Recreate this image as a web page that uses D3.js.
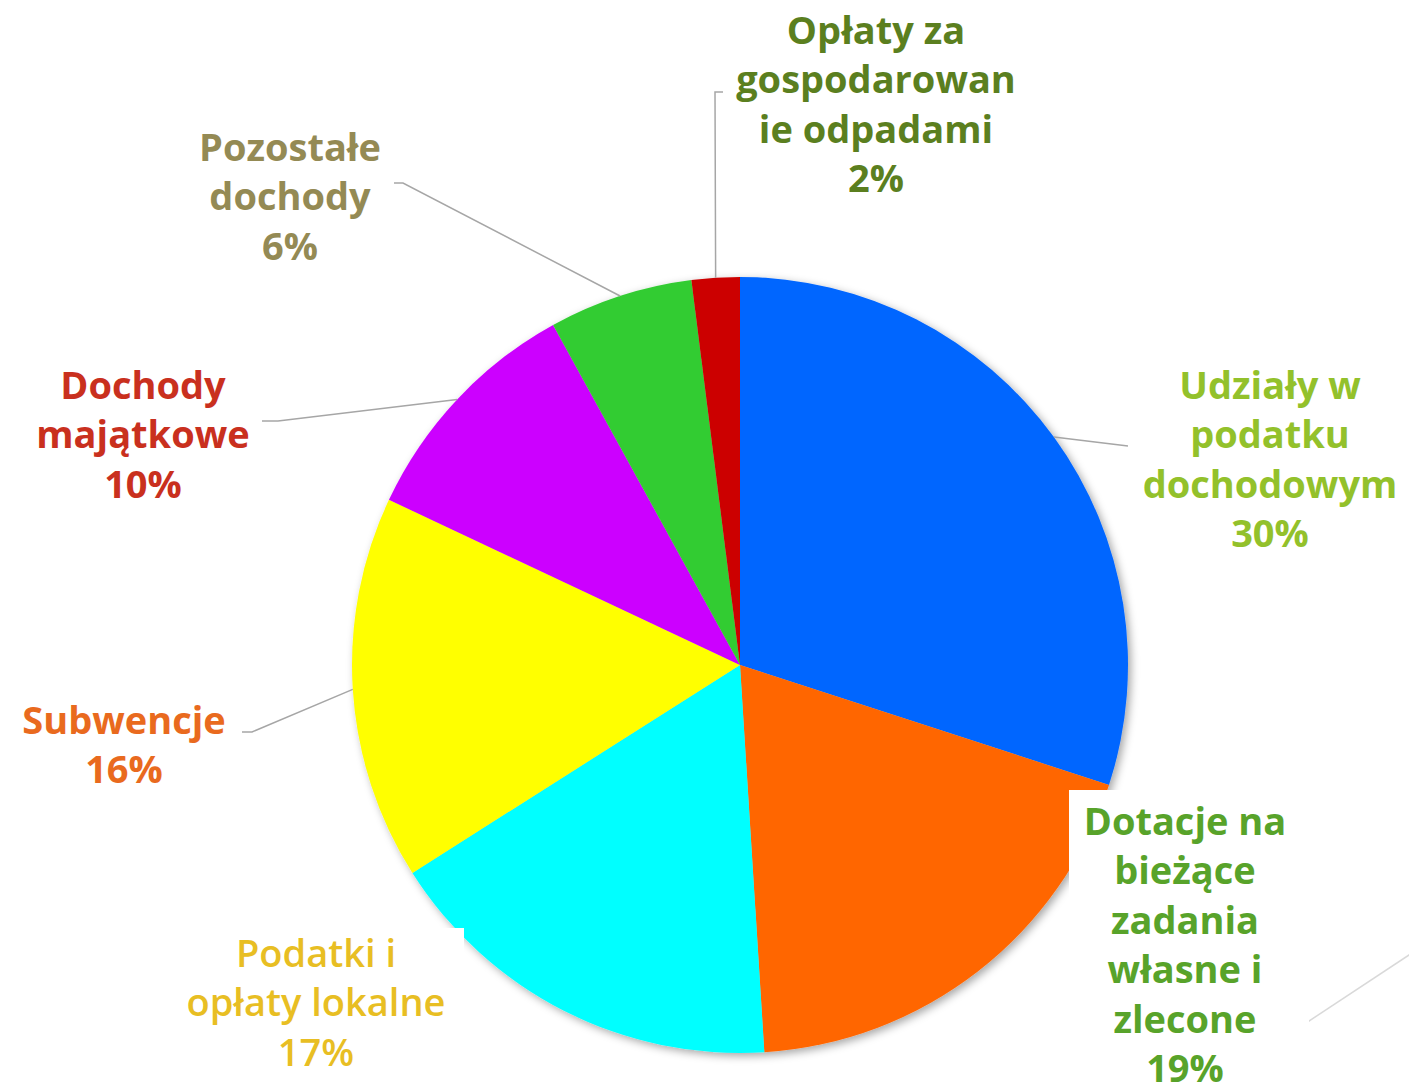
<!DOCTYPE html>
<html>
<head>
<meta charset="utf-8">
<script src="https://cdn.jsdelivr.net/npm/d3@7"></script>
<style>
  body { margin: 0; background: #fff; }
  svg text { font-family: "Open Sans", sans-serif; font-weight: 700; }
</style>
</head>
<body>
<div id="chart"></div>
<script>
// data
var categories = [
    "Udziały w podatku dochodowym",
    "Dotacje na bieżące zadania własne i zlecone",
    "Podatki i opłaty lokalne",
    "Subwencje",
    "Dochody majątkowe",
    "Pozostałe dochody",
    "Opłaty za gospodarowanie odpadami"
];
var values = [30, 19, 17, 16, 10, 6, 2];
var labelLines = [
    ["Udziały w", "podatku", "dochodowym"],
    ["Dotacje na", "bieżące", "zadania", "własne i", "zlecone"],
    ["Podatki i", "opłaty lokalne"],
    ["Subwencje"],
    ["Dochody", "majątkowe"],
    ["Pozostałe", "dochody"],
    ["Opłaty za", "gospodarowan", "ie odpadami"]
];

var sliceColors = ["#0066ff", "#ff6600", "#00ffff", "#ffff00", "#cc00ff", "#33cc33", "#cc0000"];
var labelColors = ["#93c12b", "#58a32a", "#e8be23", "#e96a1e", "#c9301e", "#948a54", "#5b7f1f"];

// label layout: centre x, first line centre y, leader elbow, white box behind label
var labelLayout = [
    { x: 1270, y: 385, elbow: [[1128, 446]] },
    { x: 1185, y: 821, box: [1069, 790, 240, 296], free: [[1300, 1027], [1412, 953]] },
    { x: 316, y: 953, box: [170, 928, 294, 158] },
    { x: 124, y: 720, elbow: [[252, 732], [242, 732]] },
    { x: 143, y: 385, elbow: [[278, 421], [262, 421]] },
    { x: 290, y: 147, elbow: [[403, 183], [394, 183]] },
    { x: 876, y: 30, elbow: [[715, 92], [723, 92]] }
];

var W = 1409, H = 1086;
var cx = 740, cy = 665, radius = 388;
var lineH = 49.5;

var svg = d3.select("#chart").append("svg")
    .attr("width", W).attr("height", H);

var defs = svg.append("defs");
var f = defs.append("filter").attr("id", "shadow")
    .attr("x", "-10%").attr("y", "-10%").attr("width", "120%").attr("height", "120%");
f.append("feDropShadow")
    .attr("dx", 3).attr("dy", 3).attr("stdDeviation", 4)
    .attr("flood-color", "#000").attr("flood-opacity", 0.35);

var pie = d3.pie().sort(null).value(d => d);
var arcs = pie(values);
var arc = d3.arc().innerRadius(0).outerRadius(radius);
var edge = d3.arc().innerRadius(radius).outerRadius(radius);

var g = svg.append("g").attr("transform", `translate(${cx}, ${cy})`);

g.append("g").attr("filter", "url(#shadow)")
    .selectAll("path")
    .data(arcs)
    .enter()
    .append("path")
    .attr("d", arc)
    .attr("fill", (d, i) => sliceColors[i]);

// leader lines
arcs.forEach(function (a, i) {
    var L = labelLayout[i];
    if (L.elbow) {
        var p = edge.centroid(a);
        var pts = [[p[0] + cx, p[1] + cy]].concat(L.elbow);
        svg.append("path")
            .attr("d", d3.line()(pts))
            .attr("fill", "none")
            .attr("stroke", "#a6a6a6")
            .attr("stroke-width", 1.5);
    }
    if (L.free) {
        svg.append("path")
            .attr("d", d3.line()(L.free))
            .attr("fill", "none")
            .attr("stroke", "#d9d9d9")
            .attr("stroke-width", 1.5);
    }
});

// labels
arcs.forEach(function (a, i) {
    var L = labelLayout[i];
    if (L.box) {
        svg.append("rect")
            .attr("x", L.box[0]).attr("y", L.box[1])
            .attr("width", L.box[2]).attr("height", L.box[3])
            .attr("fill", "#fff");
    }
    var lines = labelLines[i].concat([values[i] + "%"]);
    var t = svg.append("text")
        .attr("text-anchor", "middle")
        .attr("fill", labelColors[i])
        .style("font-size", "38px")
        .style("font-weight", i === 2 ? 600 : 700);
    lines.forEach(function (s, k) {
        t.append("tspan")
            .attr("x", L.x)
            .attr("y", L.y + k * lineH)
            .attr("dy", "0.36em")
            .text(s);
    });
});
</script>
</body>
</html>
